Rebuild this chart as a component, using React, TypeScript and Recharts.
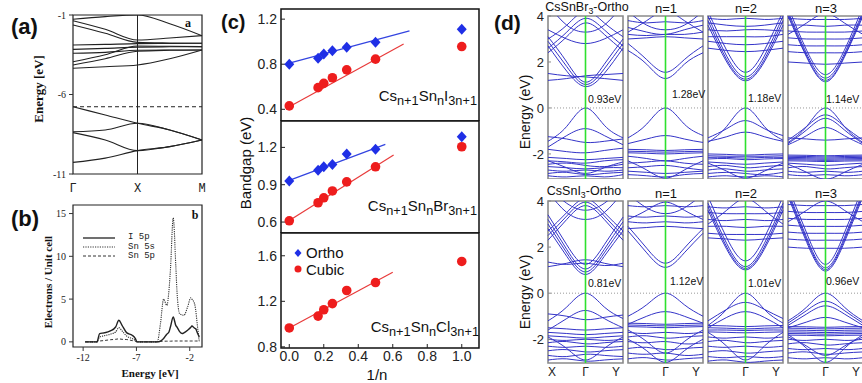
import React from "react";
import {
  LineChart,
  Line,
  XAxis,
  YAxis,
  ReferenceLine,
  ReferenceArea,
  ScatterChart,
  Scatter,
} from "recharts";

const SANS = '"Liberation Sans", Arial, sans-serif';
const SERIF = '"Liberation Serif", "Times New Roman", serif';
const MONO = '"Liberation Mono", "Courier New", monospace';
const BLUE = "#1f2fe6";
const RED = "#ee1d1d";
const BAND = "#3434c8";

// (a) band structure, path Γ - X - M
const aK = [0, 0.5, 1, 1.5, 2];
const aKLabels = ["Γ", "X", "M"];
const aBands = [
  [-1.27, -1.1, -1.0, -1.55, -2.3],
  [-1.36, -1.9, -2.57, -2.45, -2.3],
  [-1.63, -2.15, -2.72, -2.76, -2.78],
  [-2.89, -2.85, -2.8, -2.79, -2.78],
  [-3.16, -3.1, -3.02, -3.0, -2.99],
  [-3.41, -3.35, -3.22, -3.2, -3.2],
  [-3.94, -3.5, -2.95, -2.97, -2.99],
  [-4.14, -3.75, -3.28, -3.22, -3.2],
  [-4.35, -4.25, -4.14, -3.75, -3.2],
  [-6.77, -7.29, -7.81, -8.23, -8.86],
  [-8.34, -8.23, -7.81, -8.23, -8.86],
  [-8.4, -8.86, -9.53, -9.28, -8.86],
  [-10.27, -10.0, -9.53, -9.28, -8.86],
];
const aGapLine = -6.77;

// (b) partial DOS
const bEnergy = [-11.8, -10.7, -10.45, -10.05, -9.45, -8.95, -8.65, -8.35, -7.9, -7.4, -7.1, -6.95, -5.5, -5.05, -4.75, -4.45, -4.15, -3.95, -3.8, -3.55, -3.3, -3.2, -2.95, -2.7, -2.55, -2.2, -1.9, -1.8, -1.55, -1.45, -1.3, -1.1];
const bI5p = [0, 0, 0.97, 1.05, 1.28, 1.74, 2.52, 1.94, 1.05, 0.78, 0.39, 0, 0, 0, 0.1, 0.4, 0.9, 1.16, 1.8, 2.9, 1.9, 1.74, 1.2, 0.97, 1.05, 1.36, 1.7, 1.86, 1.6, 1.55, 1.1, 0.58];
const bSn5s = [0, 0, 0.58, 0.7, 0.9, 1.16, 1.67, 1.28, 0.66, 0.39, 0.15, 0, 0, 0, 2.1, 5.0, 4.26, 6.0, 8.7, 14.5, 8.7, 6.0, 3.3, 3.15, 3.1, 4.07, 5.15, 5.0, 4.46, 3.8, 2.1, 0];
const bSn5p = [0, 0, 0.1, 0.15, 0.25, 0.3, 0.35, 0.3, 0.27, 0.15, 0.08, 0, 0, 0, 0.05, 0.08, 0.08, 0.08, 0.08, 0.1, 0.1, 0.1, 0.1, 0.1, 0.1, 0.1, 0.1, 0.1, 0.1, 0.1, 0.1, 0.1];

// (c) bandgap vs 1/n
const invN = [0, 0.167, 0.2, 0.25, 0.333, 0.5, 1.0];
const cTicks = [0, 0.2, 0.4, 0.6, 0.8, 1.0];
const iOrtho = [0.8, 0.853, 0.89, 0.92, 0.95, 0.995, 1.11];
const iCubic = [0.43, 0.592, 0.63, 0.68, 0.75, 0.845, 0.957];
const brOrtho = [0.929, 1.017, 1.044, 1.063, 1.146, 1.184, 1.285];
const brCubic = [0.61, 0.755, 0.795, 0.85, 0.923, 1.044, 1.205];
const clCubic = [0.966, 1.07, 1.126, 1.18, 1.295, 1.365, 1.55];
const iOrthoFit = [[0, 0.81], [0.697, 1.096]];
const iCubicFit = [[0, 0.423], [0.663, 0.98]];
const brOrthoFit = [[0, 0.935], [0.557, 1.224]];
const brCubicFit = [[0, 0.612], [0.605, 1.138]];
const clCubicFit = [[0, 0.965], [0.6, 1.455]];

// (d) band structures, path X - Γ - Y
const dK = [0, 0.25, 0.5, 0.75, 1];
const dKLabels = ["X", "Γ", "Y"];
const brOrthoBands = [
  [2.7, 1.6, 0.93, 1.5, 2.6], [2.9, 1.8, 1.02, 1.7, 2.8], [3.1, 2.0, 1.12, 1.9, 3.0],
  [1.5, 1.4, 1.35, 1.28, 1.2], [1.2, 1.28, 1.4, 1.45, 1.5], [3.4, 3.0, 2.8, 3.0, 3.4],
  [2.4, 3.1, 3.7, 3.2, 2.5], [2.6, 3.3, 3.9, 3.4, 2.7], [4.5, 3.6, 3.3, 3.6, 4.5], [3.0, 3.6, 4.2, 3.7, 3.1],
  [-1.45, -0.8, 0, -0.75, -1.3], [-1.7, -1.2, -0.9, -1.2, -1.6], [-1.25, -1.35, -1.5, -1.45, -1.35],
  [-1.8, -1.9, -1.95, -1.85, -1.75], [-2.15, -2.2, -2.25, -2.2, -2.15], [-2.3, -2.35, -2.4, -2.3, -2.25],
  [-2.45, -2.4, -2.5, -2.55, -2.45], [-2.55, -2.6, -2.65, -2.6, -2.6], [-2.7, -2.75, -2.7, -2.75, -2.7],
  [-2.85, -2.8, -2.9, -2.85, -2.8], [-2.95, -3.0, -2.95, -3.0, -2.9], [-2.3, -2.6, -2.85, -2.6, -2.35],
];
const brN1Bands = [
  [2.5, 1.9, 1.28, 1.9, 2.4], [2.8, 2.1, 1.55, 2.1, 2.7], [3.0, 3.05, 3.1, 3.05, 3.0],
  [3.2, 3.15, 3.2, 3.2, 3.3], [3.5, 3.3, 3.2, 3.4, 3.6], [3.8, 3.7, 3.75, 3.7, 3.8],
  [4.2, 3.6, 3.4, 3.6, 4.2], [3.3, 3.8, 4.2, 3.8, 3.3],
  [-1.3, -0.7, 0, -0.7, -1.2], [-1.55, -1.35, -1.2, -1.35, -1.5], [-1.8, -1.82, -1.85, -1.82, -1.8],
  [-1.88, -1.9, -1.92, -1.9, -1.88], [-1.95, -1.97, -2.0, -1.97, -1.95], [-2.1, -2.2, -2.3, -2.2, -2.1],
  [-2.4, -2.35, -2.3, -2.4, -2.45], [-2.6, -2.55, -2.5, -2.6, -2.7], [-2.75, -2.8, -2.85, -2.8, -2.75],
  [-2.9, -2.95, -3.0, -2.9, -2.85], [-2.3, -2.7, -3.05, -2.7, -2.3],
];
const brN2Bands = [
  [3.6, 2.0, 1.18, 2.0, 3.6], [3.8, 2.1, 1.25, 2.1, 3.8], [4.0, 2.25, 1.35, 2.25, 4.0], [4.2, 2.5, 1.55, 2.5, 4.2],
  [2.6, 2.5, 2.45, 2.5, 2.6], [2.9, 2.8, 2.75, 2.8, 2.9], [3.1, 3.1, 3.1, 3.1, 3.2],
  [3.4, 3.35, 3.4, 3.4, 3.35], [3.7, 3.6, 3.55, 3.6, 3.7], [3.9, 3.85, 3.9, 3.85, 3.9],
  [-1.5, -0.8, 0, -0.8, -1.4], [-1.3, -0.9, -0.55, -0.9, -1.2], [-1.45, -1.25, -1.05, -1.25, -1.45],
  [-2.0, -2.02, -2.05, -2.02, -2.0], [-2.08, -2.1, -2.1, -2.1, -2.08], [-2.15, -2.15, -2.18, -2.15, -2.15],
  [-2.22, -2.2, -2.25, -2.22, -2.2], [-2.35, -2.4, -2.45, -2.4, -2.35], [-2.55, -2.5, -2.6, -2.55, -2.5],
  [-2.7, -2.65, -2.75, -2.7, -2.65], [-2.85, -2.8, -2.85, -2.9, -2.8], [-3.0, -2.95, -3.0, -2.95, -3.0],
  [-2.4, -2.75, -3.05, -2.75, -2.4],
];
const brN3Bands = [
  [4.0, 2.2, 1.14, 2.2, 4.0], [4.1, 2.25, 1.2, 2.25, 4.1], [4.2, 2.35, 1.3, 2.35, 4.2], [4.4, 2.5, 1.45, 2.5, 4.4],
  [2.0, 1.95, 1.9, 1.95, 2.0], [2.45, 2.4, 2.4, 2.4, 2.45], [2.75, 2.7, 2.7, 2.7, 2.75],
  [3.05, 3.0, 3.0, 3.0, 3.05], [3.35, 3.3, 3.3, 3.3, 3.35], [3.6, 3.6, 3.55, 3.6, 3.6],
  [3.9, 3.85, 3.85, 3.85, 3.9], [3.2, 3.7, 4.1, 3.7, 3.2],
  [-1.5, -0.8, 0, -0.8, -1.5], [-1.4, -0.8, -0.3, -0.8, -1.4], [-1.55, -0.95, -0.45, -0.95, -1.55],
  [-1.6, -1.2, -0.85, -1.2, -1.6], [-1.3, -1.35, -1.4, -1.35, -1.3],
  [-2.05, -2.06, -2.08, -2.06, -2.05], [-2.1, -2.11, -2.13, -2.11, -2.1], [-2.15, -2.16, -2.18, -2.16, -2.15],
  [-2.2, -2.21, -2.23, -2.21, -2.2], [-2.25, -2.26, -2.28, -2.26, -2.25], [-2.3, -2.31, -2.33, -2.31, -2.3],
  [-2.4, -2.45, -2.5, -2.45, -2.4], [-2.6, -2.55, -2.65, -2.6, -2.55], [-2.75, -2.8, -2.75, -2.8, -2.75],
  [-2.9, -2.95, -2.9, -2.95, -2.9], [-2.45, -2.8, -3.1, -2.8, -2.45],
];
const iOrthoBands = [
  [2.8, 1.6, 0.81, 1.6, 2.7], [3.0, 1.75, 0.92, 1.75, 2.9], [3.2, 1.9, 1.05, 1.9, 3.1], [3.4, 2.1, 1.25, 2.1, 3.3],
  [1.35, 1.25, 1.3, 1.2, 1.3], [1.15, 1.3, 1.45, 1.3, 1.15], [4.4, 3.5, 3.2, 3.5, 4.4],
  [2.3, 3.2, 3.8, 3.2, 2.3], [2.5, 3.35, 3.95, 3.35, 2.5], [2.7, 3.5, 4.1, 3.5, 2.7], [4.6, 3.9, 3.6, 3.9, 4.6],
  [-1.2, -0.6, 0, -0.6, -1.1], [-1.6, -1.1, -0.75, -1.1, -1.5], [-0.9, -1.0, -1.15, -1.05, -0.95],
  [-1.5, -1.55, -1.6, -1.55, -1.5], [-1.7, -1.75, -1.8, -1.75, -1.7], [-1.85, -1.9, -1.95, -1.9, -1.85],
  [-2.0, -2.05, -2.0, -2.05, -2.0], [-2.15, -2.1, -2.2, -2.15, -2.1], [-2.3, -2.35, -2.3, -2.35, -2.3],
  [-2.5, -2.45, -2.55, -2.5, -2.45], [-2.7, -2.75, -2.65, -2.7, -2.75], [-1.9, -2.4, -2.9, -2.4, -1.9],
  [-2.9, -2.85, -2.95, -2.9, -2.85],
];
const iN1Bands = [
  [2.7, 1.75, 1.12, 1.75, 2.6], [2.9, 1.95, 1.3, 1.95, 2.8], [2.8, 2.85, 2.9, 2.85, 2.8],
  [3.1, 3.05, 3.1, 3.05, 3.1], [3.35, 3.3, 3.35, 3.3, 3.35], [3.8, 3.75, 3.8, 3.75, 3.8],
  [4.3, 3.7, 3.45, 3.7, 4.3], [3.2, 3.6, 3.95, 3.6, 3.2],
  [-1.0, -0.5, 0, -0.5, -1.0], [-1.35, -1.0, -0.8, -1.0, -1.3], [-1.3, -1.32, -1.35, -1.32, -1.3],
  [-1.38, -1.4, -1.42, -1.4, -1.38], [-1.45, -1.47, -1.5, -1.47, -1.45], [-1.7, -1.75, -1.7, -1.75, -1.7],
  [-1.9, -1.85, -1.95, -1.9, -1.85], [-2.1, -2.15, -2.1, -2.2, -2.15], [-1.6, -2.1, -2.6, -2.1, -1.6],
  [-2.4, -2.35, -2.45, -2.4, -2.35], [-2.6, -2.65, -2.6, -2.7, -2.65], [-2.85, -2.8, -2.9, -2.85, -2.8],
  [-2.0, -2.5, -3.0, -2.5, -2.0],
];
const iN2Bands = [
  [3.6, 1.9, 1.01, 1.9, 3.6], [3.75, 2.0, 1.07, 2.0, 3.75], [3.9, 2.15, 1.15, 2.15, 3.9], [4.2, 2.4, 1.4, 2.4, 4.2],
  [2.4, 2.35, 2.3, 2.35, 2.4], [2.6, 2.55, 2.55, 2.55, 2.6], [2.9, 2.9, 2.85, 2.9, 2.9],
  [3.2, 3.15, 3.2, 3.15, 3.2], [3.5, 3.45, 3.45, 3.45, 3.5], [3.75, 3.7, 3.75, 3.7, 3.75], [3.0, 3.6, 4.1, 3.6, 3.0],
  [-1.4, -0.7, 0, -0.7, -1.3], [-1.2, -0.7, -0.4, -0.7, -1.1], [-1.5, -1.05, -0.8, -1.05, -1.5],
  [-1.4, -1.42, -1.45, -1.42, -1.4], [-1.5, -1.52, -1.55, -1.52, -1.5], [-1.6, -1.6, -1.62, -1.6, -1.6],
  [-1.68, -1.7, -1.72, -1.7, -1.68], [-1.9, -1.95, -1.9, -1.95, -1.9], [-2.1, -2.05, -2.15, -2.1, -2.05],
  [-2.3, -2.35, -2.3, -2.35, -2.3], [-2.55, -2.5, -2.6, -2.55, -2.5], [-2.75, -2.8, -2.75, -2.8, -2.75],
  [-1.7, -2.3, -2.9, -2.3, -1.7], [-2.95, -2.9, -3.0, -2.95, -2.9],
];
const iN3Bands = [
  [4.2, 2.2, 0.96, 2.2, 4.2], [4.3, 2.3, 1.02, 2.3, 4.3], [4.4, 2.4, 1.1, 2.4, 4.4], [4.6, 2.6, 1.25, 2.6, 4.6],
  [2.0, 1.95, 1.95, 1.95, 2.0], [2.35, 2.3, 2.3, 2.3, 2.35], [2.65, 2.6, 2.6, 2.6, 2.65],
  [2.95, 2.9, 2.9, 2.9, 2.95], [3.25, 3.2, 3.2, 3.2, 3.25], [3.55, 3.5, 3.5, 3.5, 3.55],
  [3.85, 3.8, 3.8, 3.8, 3.85], [3.1, 3.6, 4.0, 3.6, 3.1],
  [-1.2, -0.6, 0, -0.6, -1.2], [-1.3, -0.75, -0.35, -0.75, -1.3], [-1.4, -0.9, -0.55, -0.9, -1.4],
  [-1.5, -1.25, -1.05, -1.25, -1.5], [-1.45, -1.46, -1.48, -1.46, -1.45], [-1.52, -1.53, -1.55, -1.53, -1.52],
  [-1.6, -1.61, -1.63, -1.61, -1.6], [-1.68, -1.69, -1.71, -1.69, -1.68], [-1.75, -1.76, -1.78, -1.76, -1.75],
  [-1.82, -1.83, -1.85, -1.83, -1.82], [-2.0, -2.05, -2.0, -2.05, -2.0], [-2.2, -2.15, -2.25, -2.2, -2.15],
  [-2.4, -2.45, -2.4, -2.45, -2.4], [-2.6, -2.55, -2.65, -2.6, -2.55], [-2.8, -2.85, -2.8, -2.85, -2.8],
  [-1.8, -2.4, -3.0, -2.4, -1.8], [-1.9, -2.3, -2.7, -2.3, -1.9],
];

const bandRows = (k: number[], bands: number[][]) =>
  k.map((kv, i) => {
    const row: Record<string, number> = { k: kv };
    bands.forEach((b, j) => (row["b" + j] = b[i]));
    return row;
  });
const pts = (xs: number[], ys: number[]) => xs.map((x, i) => ({ x, y: ys[i] }));
const pairs = (p: number[][]) => p.map(([x, y]) => ({ x, y }));

function Txt({ x, y, size = 12, family = SANS, weight = 400, anchor = "middle", rotate = 0, children }: any) {
  const tx = anchor === "middle" ? "-50%" : anchor === "end" ? "-100%" : "0";
  return (
    <div
      style={{
        position: "absolute",
        left: x,
        top: y,
        fontSize: size,
        fontFamily: family,
        fontWeight: weight,
        lineHeight: 1,
        whiteSpace: "nowrap",
        color: "#111",
        transform: `translate(${tx}, -50%) rotate(${rotate}deg)`,
      }}
    >
      {children}
    </div>
  );
}

const Sub = ({ children, s = 0.85 }: any) => (
  <span style={{ fontSize: `${s}em`, position: "relative", top: "0.3em" }}>{children}</span>
);

const DiamondMark = (p: any) => (
  <polygon
    points={`${p.cx},${p.cy - 5.5} ${p.cx + 5},${p.cy} ${p.cx},${p.cy + 5.5} ${p.cx - 5},${p.cy}`}
    fill={BLUE}
  />
);
const CircleMark = (p: any) => <circle cx={p.cx} cy={p.cy} r={4.8} fill={RED} />;
const NoMark = () => <g />;

const KTick = (p: any) => {
  const v = p.payload.value;
  const anchor = v === 0 ? "start" : v === 1 ? "end" : "middle";
  return (
    <text x={p.x} y={p.y + 5} textAnchor={anchor} fontSize={12} fontFamily={SANS} fill="#222">
      {dKLabels[Math.round(v * 2)]}
    </text>
  );
};

function BandPanel({ left, top, bands, lo, showY, showX, mTop, plotH }: any) {
  const rows = bandRows(dK, bands);
  const yW = showY ? 28 : 1;
  const xH = showX ? 20 : 0;
  return (
    <div style={{ position: "absolute", left: left - yW, top }}>
      <LineChart
        width={yW + 76}
        height={mTop + plotH + xH}
        data={rows}
        margin={{ top: mTop, right: 1, bottom: 0, left: 0 }}
      >
        <XAxis
          type="number"
          dataKey="k"
          domain={[0, 1]}
          ticks={[0, 0.5, 1]}
          hide={!showX}
          height={xH}
          tick={<KTick />}
          axisLine={false}
          tickLine={false}
        />
        <YAxis
          type="number"
          domain={[lo, 4]}
          allowDataOverflow
          ticks={[-2, 0, 2, 4]}
          width={yW}
          tick={showY ? { fontSize: 13, fill: "#222", fontFamily: SANS } : false}
          tickSize={-3}
          tickMargin={7}
          axisLine={false}
          tickLine={{ stroke: "#888" }}
        />
        {bands.map((_: number[], j: number) => (
          <Line
            key={j}
            dataKey={"b" + j}
            type="natural"
            stroke={BAND}
            strokeWidth={1}
            dot={false}
            isAnimationActive={false}
          />
        ))}
        <ReferenceLine y={0} stroke="#999" strokeDasharray="1 2" />
        <ReferenceLine x={0.5} stroke="#2ee02e" strokeWidth={1.6} />
        <ReferenceArea x1={0} x2={1} y1={lo} y2={4} fill="none" stroke="#8a8a8a" strokeWidth={1.6} />
      </LineChart>
    </div>
  );
}

function GapPanel({ top, mTop, plotH, xH, lo, hi, yTicks, rTicks, showX, ortho, cubic, orthoFit, cubicFit }: any) {
  const tickStyle = { fontSize: 14, fill: "#222", fontFamily: SANS };
  return (
    <div style={{ position: "absolute", left: 220, top }}>
      <ScatterChart width={260} height={mTop + plotH + xH} margin={{ top: mTop, right: 1, bottom: 0, left: 0 }}>
        <XAxis
          type="number"
          dataKey="x"
          domain={[-0.048, 1.1]}
          ticks={cTicks}
          height={xH}
          tick={showX ? tickStyle : false}
          tickFormatter={(v: number) => v.toFixed(1)}
          tickSize={-4}
          tickMargin={7}
          axisLine={false}
          tickLine={{ stroke: "#222" }}
        />
        <XAxis
          xAxisId="t"
          orientation="top"
          type="number"
          dataKey="x"
          domain={[-0.048, 1.1]}
          ticks={cTicks}
          height={0}
          tick={false}
          tickSize={-4}
          axisLine={false}
          tickLine={{ stroke: "#222" }}
        />
        <YAxis
          type="number"
          dataKey="y"
          domain={[lo, hi]}
          ticks={yTicks}
          width={61}
          tick={tickStyle}
          tickFormatter={(v: number) => v.toFixed(1)}
          tickSize={-4}
          tickMargin={8}
          axisLine={false}
          tickLine={{ stroke: "#222" }}
        />
        <YAxis
          yAxisId="r"
          orientation="right"
          type="number"
          dataKey="y"
          domain={[lo, hi]}
          ticks={rTicks}
          width={0}
          tick={false}
          tickSize={-4}
          axisLine={false}
          tickLine={{ stroke: "#222" }}
        />
        {orthoFit && (
          <Scatter data={pairs(orthoFit)} line={{ stroke: "#3344e0", strokeWidth: 1.2 }} shape={NoMark} isAnimationActive={false} />
        )}
        <Scatter data={pairs(cubicFit)} line={{ stroke: "#e83a3a", strokeWidth: 1.2 }} shape={NoMark} isAnimationActive={false} />
        {ortho && <Scatter data={pts(invN, ortho)} shape={DiamondMark} isAnimationActive={false} />}
        <Scatter data={pts(invN, cubic)} shape={CircleMark} isAnimationActive={false} />
        <ReferenceArea x1={-0.048} x2={1.1} y1={lo} y2={hi} fill="none" stroke="#111" strokeWidth={1.5} />
      </ScatterChart>
    </div>
  );
}

export default function App() {
  const aRows = bandRows(aK, aBands);
  const bRows = bEnergy.map((e, i) => ({ e, i5p: bI5p[i], sn5s: bSn5s[i], sn5p: bSn5p[i] }));
  const serifTick = { fontSize: 10, fill: "#222", fontFamily: SERIF };

  return (
    <div
      style={{
        position: "absolute",
        left: 0,
        top: 0,
        width: 862,
        height: 383,
        background: "#fff",
        overflow: "hidden",
        fontFamily: SANS,
      }}
    >
      {/* (a) */}
      <div style={{ position: "absolute", left: 0, top: 0 }}>
        <LineChart width={210} height={200} data={aRows} margin={{ top: 15, right: 8, bottom: 0, left: 0 }}>
          <XAxis
            type="number"
            dataKey="k"
            domain={[0, 2]}
            ticks={[0, 1, 2]}
            height={26}
            tickFormatter={(v: number) => aKLabels[v]}
            tick={{ fontSize: 12, fill: "#222", fontFamily: MONO }}
            tickLine={false}
            axisLine={false}
            tickMargin={3}
          />
          <YAxis
            type="number"
            domain={[-11, -1]}
            ticks={[-11, -6, -1]}
            width={73}
            allowDataOverflow
            tick={serifTick}
            tickSize={4}
            tickMargin={3}
            axisLine={false}
            tickLine={{ stroke: "#333" }}
          />
          {aBands.map((_, j) => (
            <Line key={j} dataKey={"b" + j} type="monotone" stroke="#222" strokeWidth={1.1} dot={false} isAnimationActive={false} />
          ))}
          <ReferenceLine x={1} stroke="#222" strokeWidth={1} />
          <ReferenceLine y={aGapLine} stroke="#222" strokeDasharray="4 3" />
          <ReferenceArea x1={0} x2={2} y1={-11} y2={-1} fill="none" stroke="#222" strokeWidth={1.2} />
        </LineChart>
      </div>
      <Txt x={188} y={23} size={12} family={SERIF} weight={700}>a</Txt>
      <Txt x={38} y={89} size={13} family={SERIF} weight={700} rotate={-90}>Energy [eV]</Txt>

      {/* (b) */}
      <div style={{ position: "absolute", left: 0, top: 195 }}>
        <LineChart width={210} height={188} data={bRows} margin={{ top: 10, right: 8, bottom: 0, left: 0 }}>
          <XAxis
            type="number"
            dataKey="e"
            domain={[-12.95, -0.85]}
            ticks={[-12, -7, -2]}
            height={36}
            tick={serifTick}
            tickSize={4}
            tickMargin={3}
            axisLine={false}
            tickLine={{ stroke: "#333" }}
          />
          <YAxis
            type="number"
            domain={[-0.6, 16]}
            ticks={[0, 5, 10, 15]}
            width={73}
            tick={serifTick}
            tickSize={4}
            tickMargin={3}
            axisLine={false}
            tickLine={{ stroke: "#333" }}
          />
          <Line dataKey="sn5p" type="monotone" stroke="#333" strokeWidth={1} strokeDasharray="3 2" dot={false} isAnimationActive={false} />
          <Line dataKey="sn5s" type="monotone" stroke="#333" strokeWidth={1.1} strokeDasharray="1.2 1" dot={false} isAnimationActive={false} />
          <Line dataKey="i5p" type="monotone" stroke="#222" strokeWidth={1.4} dot={false} isAnimationActive={false} />
          <ReferenceArea x1={-12.95} x2={-0.85} y1={-0.6} y2={16} fill="none" stroke="#222" strokeWidth={1.2} />
        </LineChart>
      </div>
      <svg style={{ position: "absolute", left: 80, top: 230 }} width={90} height={32}>
        <line x1={3} x2={35} y1={8} y2={8} stroke="#222" strokeWidth={1.3} />
        <line x1={3} x2={35} y1={17} y2={17} stroke="#333" strokeWidth={1.1} strokeDasharray="1.2 1.2" />
        <line x1={3} x2={35} y1={26} y2={26} stroke="#333" strokeWidth={1} strokeDasharray="3 2" />
        <text x={48} y={9} fontSize={9} fontFamily={MONO} fill="#222">I 5p</text>
        <text x={48} y={19} fontSize={9} fontFamily={MONO} fill="#222">Sn 5s</text>
        <text x={48} y={28} fontSize={9} fontFamily={MONO} fill="#222">Sn 5p</text>
      </svg>
      <Txt x={195} y={215} size={12} family={SERIF} weight={700}>b</Txt>
      <Txt x={48} y={282} size={11} family={SERIF} weight={700} rotate={-90}>Electrons / Unit cell</Txt>
      <Txt x={150} y={373} size={11} family={SERIF} weight={700}>Energy [eV]</Txt>

      {/* (c) */}
      <GapPanel
        top={0}
        mTop={9}
        plotH={112}
        xH={0}
        lo={0.296}
        hi={1.29}
        yTicks={[0.4, 0.8, 1.2]}
        rTicks={[0.4, 0.6, 0.8, 1.0, 1.2]}
        showX={false}
        ortho={iOrtho}
        cubic={iCubic}
        orthoFit={iOrthoFit}
        cubicFit={iCubicFit}
      />
      <GapPanel
        top={112}
        mTop={9}
        plotH={112}
        xH={0}
        lo={0.512}
        hi={1.412}
        yTicks={[0.6, 0.9, 1.2]}
        rTicks={[0.6, 0.75, 0.9, 1.05, 1.2, 1.35]}
        showX={false}
        ortho={brOrtho}
        cubic={brCubic}
        orthoFit={brOrthoFit}
        cubicFit={brCubicFit}
      />
      <GapPanel
        top={224}
        mTop={9}
        plotH={115}
        xH={30}
        lo={0.79}
        hi={1.8}
        yTicks={[0.8, 1.2, 1.6]}
        rTicks={[1.0, 1.2, 1.4, 1.6]}
        showX={true}
        cubic={clCubic}
        cubicFit={clCubicFit}
      />
      <Txt x={477} y={96} size={15} anchor="end">
        Cs<Sub>n+1</Sub>Sn<Sub>n</Sub>I<Sub>3n+1</Sub>
      </Txt>
      <Txt x={477} y={206} size={15} anchor="end">
        Cs<Sub>n+1</Sub>Sn<Sub>n</Sub>Br<Sub>3n+1</Sub>
      </Txt>
      <Txt x={479} y={327} size={15} anchor="end">
        Cs<Sub>n+1</Sub>Sn<Sub>n</Sub>Cl<Sub>3n+1</Sub>
      </Txt>
      <svg style={{ position: "absolute", left: 292, top: 246 }} width={12} height={28}>
        <polygon points="6,3 9.5,7 6,11 2.5,7" fill={BLUE} />
        <circle cx={6} cy={23} r={3.5} fill={RED} />
      </svg>
      <Txt x={306} y={252} size={15} anchor="start">Ortho</Txt>
      <Txt x={306} y={269} size={15} anchor="start">Cubic</Txt>
      <Txt x={245} y={163} size={15} rotate={-90}>Bandgap (eV)</Txt>
      <Txt x={377} y={374} size={15}>1/n</Txt>

      {/* (d) */}
      <BandPanel left={548} top={0} bands={brOrthoBands} lo={-3.09} showY mTop={16} plotH={163} />
      <BandPanel left={628} top={0} bands={brN1Bands} lo={-3.09} mTop={16} plotH={163} />
      <BandPanel left={708} top={0} bands={brN2Bands} lo={-3.09} mTop={16} plotH={163} />
      <BandPanel left={788} top={0} bands={brN3Bands} lo={-3.09} mTop={16} plotH={163} />
      <BandPanel left={548} top={190} bands={iOrthoBands} lo={-3.03} showY showX mTop={11} plotH={162} />
      <BandPanel left={628} top={190} bands={iN1Bands} lo={-3.03} showX mTop={11} plotH={162} />
      <BandPanel left={708} top={190} bands={iN2Bands} lo={-3.03} showX mTop={11} plotH={162} />
      <BandPanel left={788} top={190} bands={iN3Bands} lo={-3.03} showX mTop={11} plotH={162} />

      <Txt x={587} y={7} size={12.5}>CsSnBr<Sub s={0.7}>3</Sub>-Ortho</Txt>
      <Txt x={666} y={8} size={13}>n=1</Txt>
      <Txt x={746} y={8} size={13}>n=2</Txt>
      <Txt x={826} y={8} size={13}>n=3</Txt>
      <Txt x={584} y={191} size={12.5}>CsSnI<Sub s={0.7}>3</Sub>-Ortho</Txt>
      <Txt x={666} y={193} size={13}>n=1</Txt>
      <Txt x={746} y={193} size={13}>n=2</Txt>
      <Txt x={826} y={193} size={13}>n=3</Txt>

      <Txt x={588} y={99} size={10.5} anchor="start">0.93eV</Txt>
      <Txt x={672} y={94} size={10.5} anchor="start">1.28eV</Txt>
      <Txt x={748} y={98} size={10.5} anchor="start">1.18eV</Txt>
      <Txt x={826} y={99} size={10.5} anchor="start">1.14eV</Txt>
      <Txt x={588} y={283} size={10.5} anchor="start">0.81eV</Txt>
      <Txt x={670} y={281} size={10.5} anchor="start">1.12eV</Txt>
      <Txt x={748} y={283} size={10.5} anchor="start">1.01eV</Txt>
      <Txt x={826} y={281} size={10.5} anchor="start">0.96eV</Txt>

      <Txt x={525} y={112} size={14} rotate={-90}>Energy (eV)</Txt>
      <Txt x={525} y={292} size={14} rotate={-90}>Energy (eV)</Txt>

      <Txt x={11} y={27} size={22} weight={700} anchor="start">(a)</Txt>
      <Txt x={11} y={219} size={22} weight={700} anchor="start">(b)</Txt>
      <Txt x={221} y={22} size={20} weight={700} anchor="start">(c)</Txt>
      <Txt x={494} y={22} size={21} weight={700} anchor="start">(d)</Txt>
    </div>
  );
}
